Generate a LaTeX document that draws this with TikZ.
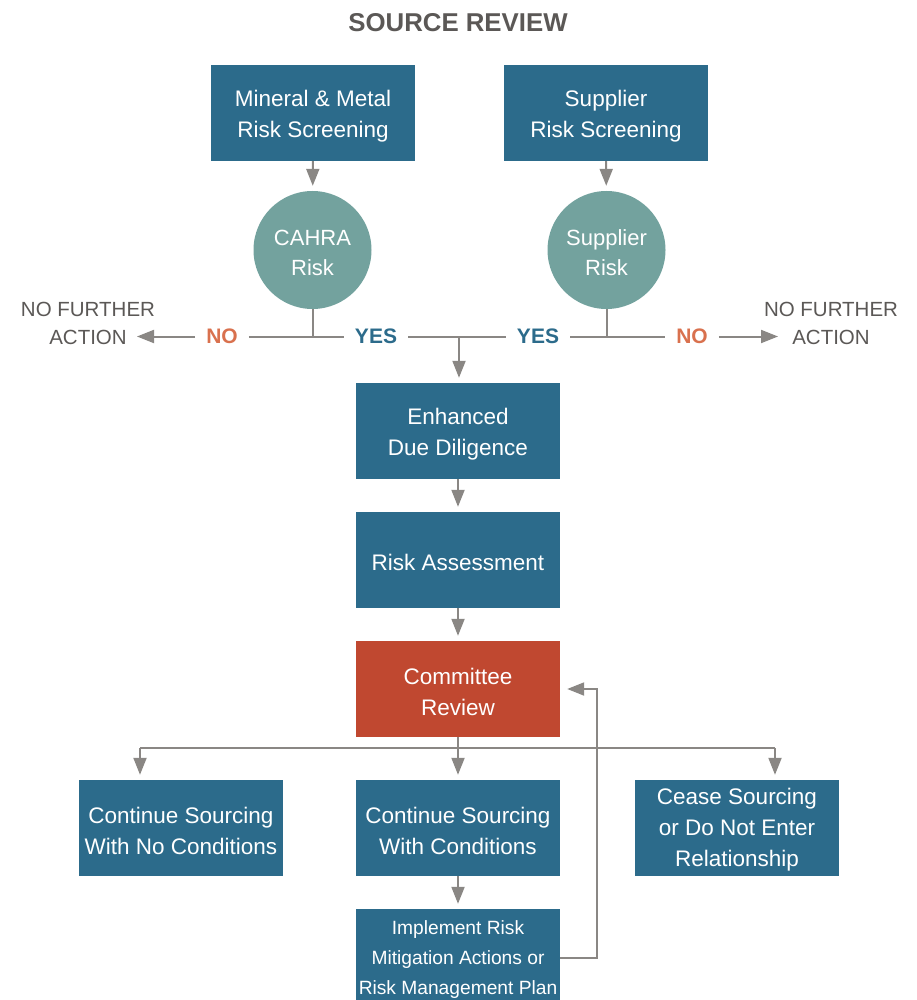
\documentclass[tikz,border=0pt]{standalone}
\usepackage{fontspec}
\setmainfont{Liberation Sans}
\usetikzlibrary{arrows.meta}
\definecolor{boxblue}{HTML}{2C6B8B}
\definecolor{circteal}{HTML}{73A29E}
\definecolor{comred}{HTML}{C04830}
\definecolor{arrgray}{HTML}{8A8784}
\definecolor{txtgray}{HTML}{5B5856}
\definecolor{noorange}{HTML}{D9714E}
\tikzset{
  boxst/.style={rectangle, fill=boxblue, text=white, minimum width=204pt, minimum height=96pt,
    inner sep=0pt, align=center, font=\fontsize{22.5}{31}\selectfont},
  circst/.style={circle, fill=circteal, text=white, minimum size=118pt, inner sep=0pt,
    align=center, font=\fontsize{22}{30}\selectfont},
  inlab/.style={text=white, align=center, inner sep=0pt, yshift=-3pt},
  conn/.style={draw=arrgray, line width=2pt},
  arr/.style={conn, -{Triangle[length=17pt,width=13pt]}, shorten >=5pt},
  yesst/.style={text=boxblue, font=\fontsize{21}{25}\selectfont\bfseries, inner xsep=11pt, inner ysep=0pt},
  nost/.style={text=noorange, font=\fontsize{21}{25}\selectfont\bfseries, inner xsep=11pt, inner ysep=0pt},
  nfast/.style={text=txtgray, align=center, font=\fontsize{20.5}{28}\selectfont, inner sep=0pt}
}
\begin{document}
\begin{tikzpicture}[x=1pt,y=-1pt]
\useasboundingbox (0,0) rectangle (917,1000);
\node[text=txtgray, font=\fontsize{25.8}{30}\selectfont\bfseries] (title) at (458,22.5) {SOURCE REVIEW};

\node[boxst, label={[inlab, font=\fontsize{22.5}{31}\selectfont]center:{Mineral \& Metal\\Risk Screening}}] (mm) at (313,113) {};
\node[boxst, label={[inlab, font=\fontsize{22.5}{31}\selectfont]center:{Supplier\\Risk Screening}}] (sr) at (606,113) {};
\node[circst, label={[inlab, font=\fontsize{22}{30}\selectfont]center:{CAHRA\\Risk}}] (cahra) at (312.5,250) {};
\node[circst, label={[inlab, font=\fontsize{22}{30}\selectfont]center:{Supplier\\Risk}}] (srisk) at (606.5,250) {};

\node[nfast] (nfal) at (88,323.5) {NO FURTHER\\ACTION};
\node[nfast] (nfar) at (831,323.5) {NO FURTHER\\ACTION};
\node[nost] (nol) at (222,336.5) {NO};
\node[yesst] (yesl) at (376,336.5) {YES};
\node[yesst] (yesr) at (538,336.5) {YES};
\node[nost] (nor) at (692,336.5) {NO};

\coordinate (jl) at (312.5,336.5);
\coordinate (jr) at (607,336.5);
\coordinate (jm) at (459,336.5);
\coordinate (tipl) at (137,336.5);
\coordinate (tipr) at (778,336.5);

\node[boxst, label={[inlab, font=\fontsize{22.5}{31}\selectfont]center:{Enhanced\\Due Diligence}}] (edd) at (458,431) {};
\node[boxst, label={[inlab, font=\fontsize{22.5}{31}\selectfont, yshift=1pt]center:{Risk Assessment}}] (ra) at (458,560) {};
\node[boxst, fill=comred, label={[inlab, font=\fontsize{22.5}{31}\selectfont]center:{Committee\\Review}}] (cr) at (458,689) {};

\node[boxst, label={[inlab, font=\fontsize{22.5}{31}\selectfont]center:{Continue Sourcing\\With No Conditions}}] (cnc) at (181,828) {};
\node[boxst, label={[inlab, font=\fontsize{22.5}{31}\selectfont]center:{Continue Sourcing\\With Conditions}}] (cwc) at (458,828) {};
\node[boxst, label={[inlab, font=\fontsize{22.5}{31}\selectfont, yshift=1pt]center:{Cease Sourcing\\or Do Not Enter\\Relationship}}] (cease) at (737,828) {};
\node[boxst, minimum height=98pt, label={[inlab, font=\fontsize{19.2}{30}\selectfont, yshift=1pt]center:{Implement Risk\\Mitigation Actions or\\Risk Management Plan}}] (imp) at (458,958) {};

\coordinate (hl) at (140,748);
\coordinate (hr) at (775,748);
\coordinate (fb) at (597,820);

% top arrows
\draw[arr] (mm) -- (cahra);
\draw[arr] (sr) -- (srisk);
% decision lines
\draw[conn] (cahra.south) -- (jl);
\draw[conn] (srisk.south -| jr) -- (jr);
\draw[conn] (nol.east) -- (yesl.west);
\draw[arr, shorten >=0pt] (nol.west) -- (tipl);
\draw[conn] (yesl.east) -- (yesr.west);
\draw[conn] (yesr.east) -- (nor.west);
\draw[arr, shorten >=0pt] (nor.east) -- (tipr);
\draw[arr] (jm) -- (jm |- edd.north);
\draw[arr] (edd) -- (ra);
\draw[arr] (ra) -- (cr);
% outcomes
\draw[conn] (hl) -- (hr);
\draw[arr] (cr) -- (cwc);
\draw[arr] (hl) -- (hl |- cnc.north);
\draw[arr] (hr) -- (hr |- cease.north);
\draw[arr] (cwc) -- (imp);
\draw[arr, shorten >=7pt] (imp.east) -| (fb) |- (cr.east);
\end{tikzpicture}
\end{document}
